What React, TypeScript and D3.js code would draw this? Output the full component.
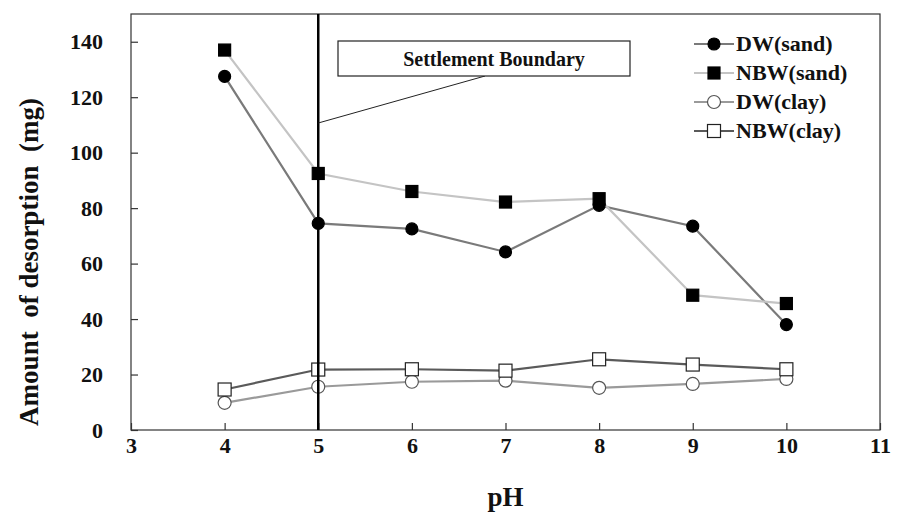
import React, { useRef, useEffect } from 'react';
import * as d3 from 'd3';

const phValues = [4, 5, 6, 7, 8, 9, 10];
const dwSand = [127.5, 74.5, 72.5, 64.2, 81, 73.5, 38];
const nbwSand = [137, 92.5, 86, 82.2, 83.4, 48.6, 45.6];
const dwClay = [9.8, 15.6, 17.4, 17.8, 15.2, 16.6, 18.4];
const nbwClay = [14.6, 21.8, 21.9, 21.4, 25.5, 23.6, 21.9];
const xTicks = [3, 4, 5, 6, 7, 8, 9, 10, 11];
const yTicks = [0, 20, 40, 60, 80, 100, 120, 140];
const seriesNames = ['DW(sand)', 'NBW(sand)', 'DW(clay)', 'NBW(clay)'];

const W = 902, H = 513;
const font = '"Liberation Serif", "Times New Roman", serif';

const App = () => {
  const svgRef = useRef<SVGSVGElement>(null);

  useEffect(() => {
    const svg = d3.select(svgRef.current);
    svg.selectAll('*').remove();

    const left = 131, right = 880, top = 14, bottom = 430;
    const x = d3.scaleLinear().domain([3, 11]).range([left, right]);
    const y = d3.scaleLinear().domain([0, 150]).range([bottom, top]);

    // frame
    svg.append('rect')
      .attr('x', left).attr('y', top)
      .attr('width', right - left).attr('height', bottom - top)
      .attr('fill', 'none').attr('stroke', '#333').attr('stroke-width', 1.2);

    // axes, ticks pointing inward
    const xAxis = d3.axisBottom(x).tickValues(xTicks).tickSize(-7).tickPadding(7);
    const gx = svg.append('g').attr('transform', `translate(0,${bottom})`).call(xAxis);
    const yAxis = d3.axisLeft(y).tickValues(yTicks).tickSize(-7).tickPadding(28);
    const gy = svg.append('g').attr('transform', `translate(${left},0)`).call(yAxis);
    [gx, gy].forEach(g => {
      g.attr('font-family', font);
      g.select('.domain').remove();
      g.selectAll('line').attr('stroke', '#333').attr('stroke-width', 1.2);
      g.selectAll('text')
        .attr('font-family', font).attr('font-weight', 'bold')
        .attr('font-size', 22).attr('fill', '#111');
    });
    gx.selectAll('text').attr('dy', '0.71em');

    // axis titles
    svg.append('text')
      .attr('transform', `translate(38,${(top + bottom) / 2 + 40}) rotate(-90)`)
      .attr('text-anchor', 'middle')
      .attr('font-family', font).attr('font-weight', 'bold').attr('font-size', 27)
      .attr('fill', '#111')
      .style('white-space', 'pre')
      .text('Amount  of desorption  (mg)');
    svg.append('text')
      .attr('x', x(7)).attr('y', 506)
      .attr('text-anchor', 'middle')
      .attr('font-family', font).attr('font-weight', 'bold').attr('font-size', 27)
      .attr('fill', '#111')
      .text('pH');

    const styles = [
      { data: dwSand, line: '#7a7a7a', marker: 'circle', fill: '#000', stroke: '#000' },
      { data: nbwSand, line: '#c4c4c4', marker: 'square', fill: '#000', stroke: '#000' },
      { data: dwClay, line: '#9a9a9a', marker: 'circle', fill: '#fff', stroke: '#555' },
      { data: nbwClay, line: '#5a5a5a', marker: 'square', fill: '#fff', stroke: '#222' },
    ];

    const lineGen = d3.line<number>()
      .x((_, i) => x(phValues[i]))
      .y(d => y(d));

    const drawMarker = (g: any, cx: number, cy: number, s: any) => {
      const open = s.fill === '#fff';
      if (s.marker === 'circle') {
        g.append('circle').attr('cx', cx).attr('cy', cy).attr('r', open ? 6.5 : 6)
          .attr('fill', s.fill).attr('stroke', s.stroke).attr('stroke-width', 1.2);
      } else {
        const sz = open ? 13 : 12;
        g.append('rect').attr('x', cx - sz / 2).attr('y', cy - sz / 2)
          .attr('width', sz).attr('height', sz)
          .attr('fill', s.fill).attr('stroke', s.stroke).attr('stroke-width', 1.2);
      }
    };

    styles.forEach(s => {
      svg.append('path').datum(s.data)
        .attr('d', lineGen).attr('fill', 'none')
        .attr('stroke', s.line).attr('stroke-width', 2.2);
    });
    styles.forEach(s => {
      const g = svg.append('g');
      s.data.forEach((v, i) => drawMarker(g, x(phValues[i]), y(v), s));
    });

    // settlement boundary at pH 5
    svg.append('line')
      .attr('x1', x(5)).attr('x2', x(5)).attr('y1', top).attr('y2', bottom)
      .attr('stroke', '#000').attr('stroke-width', 2.5);

    // annotation
    svg.append('line')
      .attr('x1', 485).attr('y1', 76).attr('x2', x(5)).attr('y2', 123)
      .attr('stroke', '#222').attr('stroke-width', 1);
    svg.append('rect')
      .attr('x', 338).attr('y', 41).attr('width', 292).attr('height', 35)
      .attr('fill', '#fff').attr('stroke', '#222').attr('stroke-width', 1.2);
    svg.append('text')
      .attr('x', 494).attr('y', 66)
      .attr('text-anchor', 'middle')
      .attr('font-family', font).attr('font-weight', 'bold').attr('font-size', 20)
      .attr('fill', '#111')
      .text('Settlement Boundary');

    // legend
    const lg = svg.append('g');
    styles.forEach((s, i) => {
      const ly = 44 + i * 29;
      lg.append('line').attr('x1', 694).attr('x2', 734).attr('y1', ly).attr('y2', ly)
        .attr('stroke', s.line).attr('stroke-width', 2.2);
      drawMarker(lg, 714, ly, s);
      lg.append('text').attr('x', 736).attr('y', ly + 7)
        .attr('font-family', font).attr('font-weight', 'bold').attr('font-size', 22)
        .attr('fill', '#111')
        .text(seriesNames[i]);
    });
  }, []);

  return (
    <svg ref={svgRef} width={W} height={H}
      style={{ position: 'absolute', left: 0, top: 0, background: '#fff' }} />
  );
};

export default App;
